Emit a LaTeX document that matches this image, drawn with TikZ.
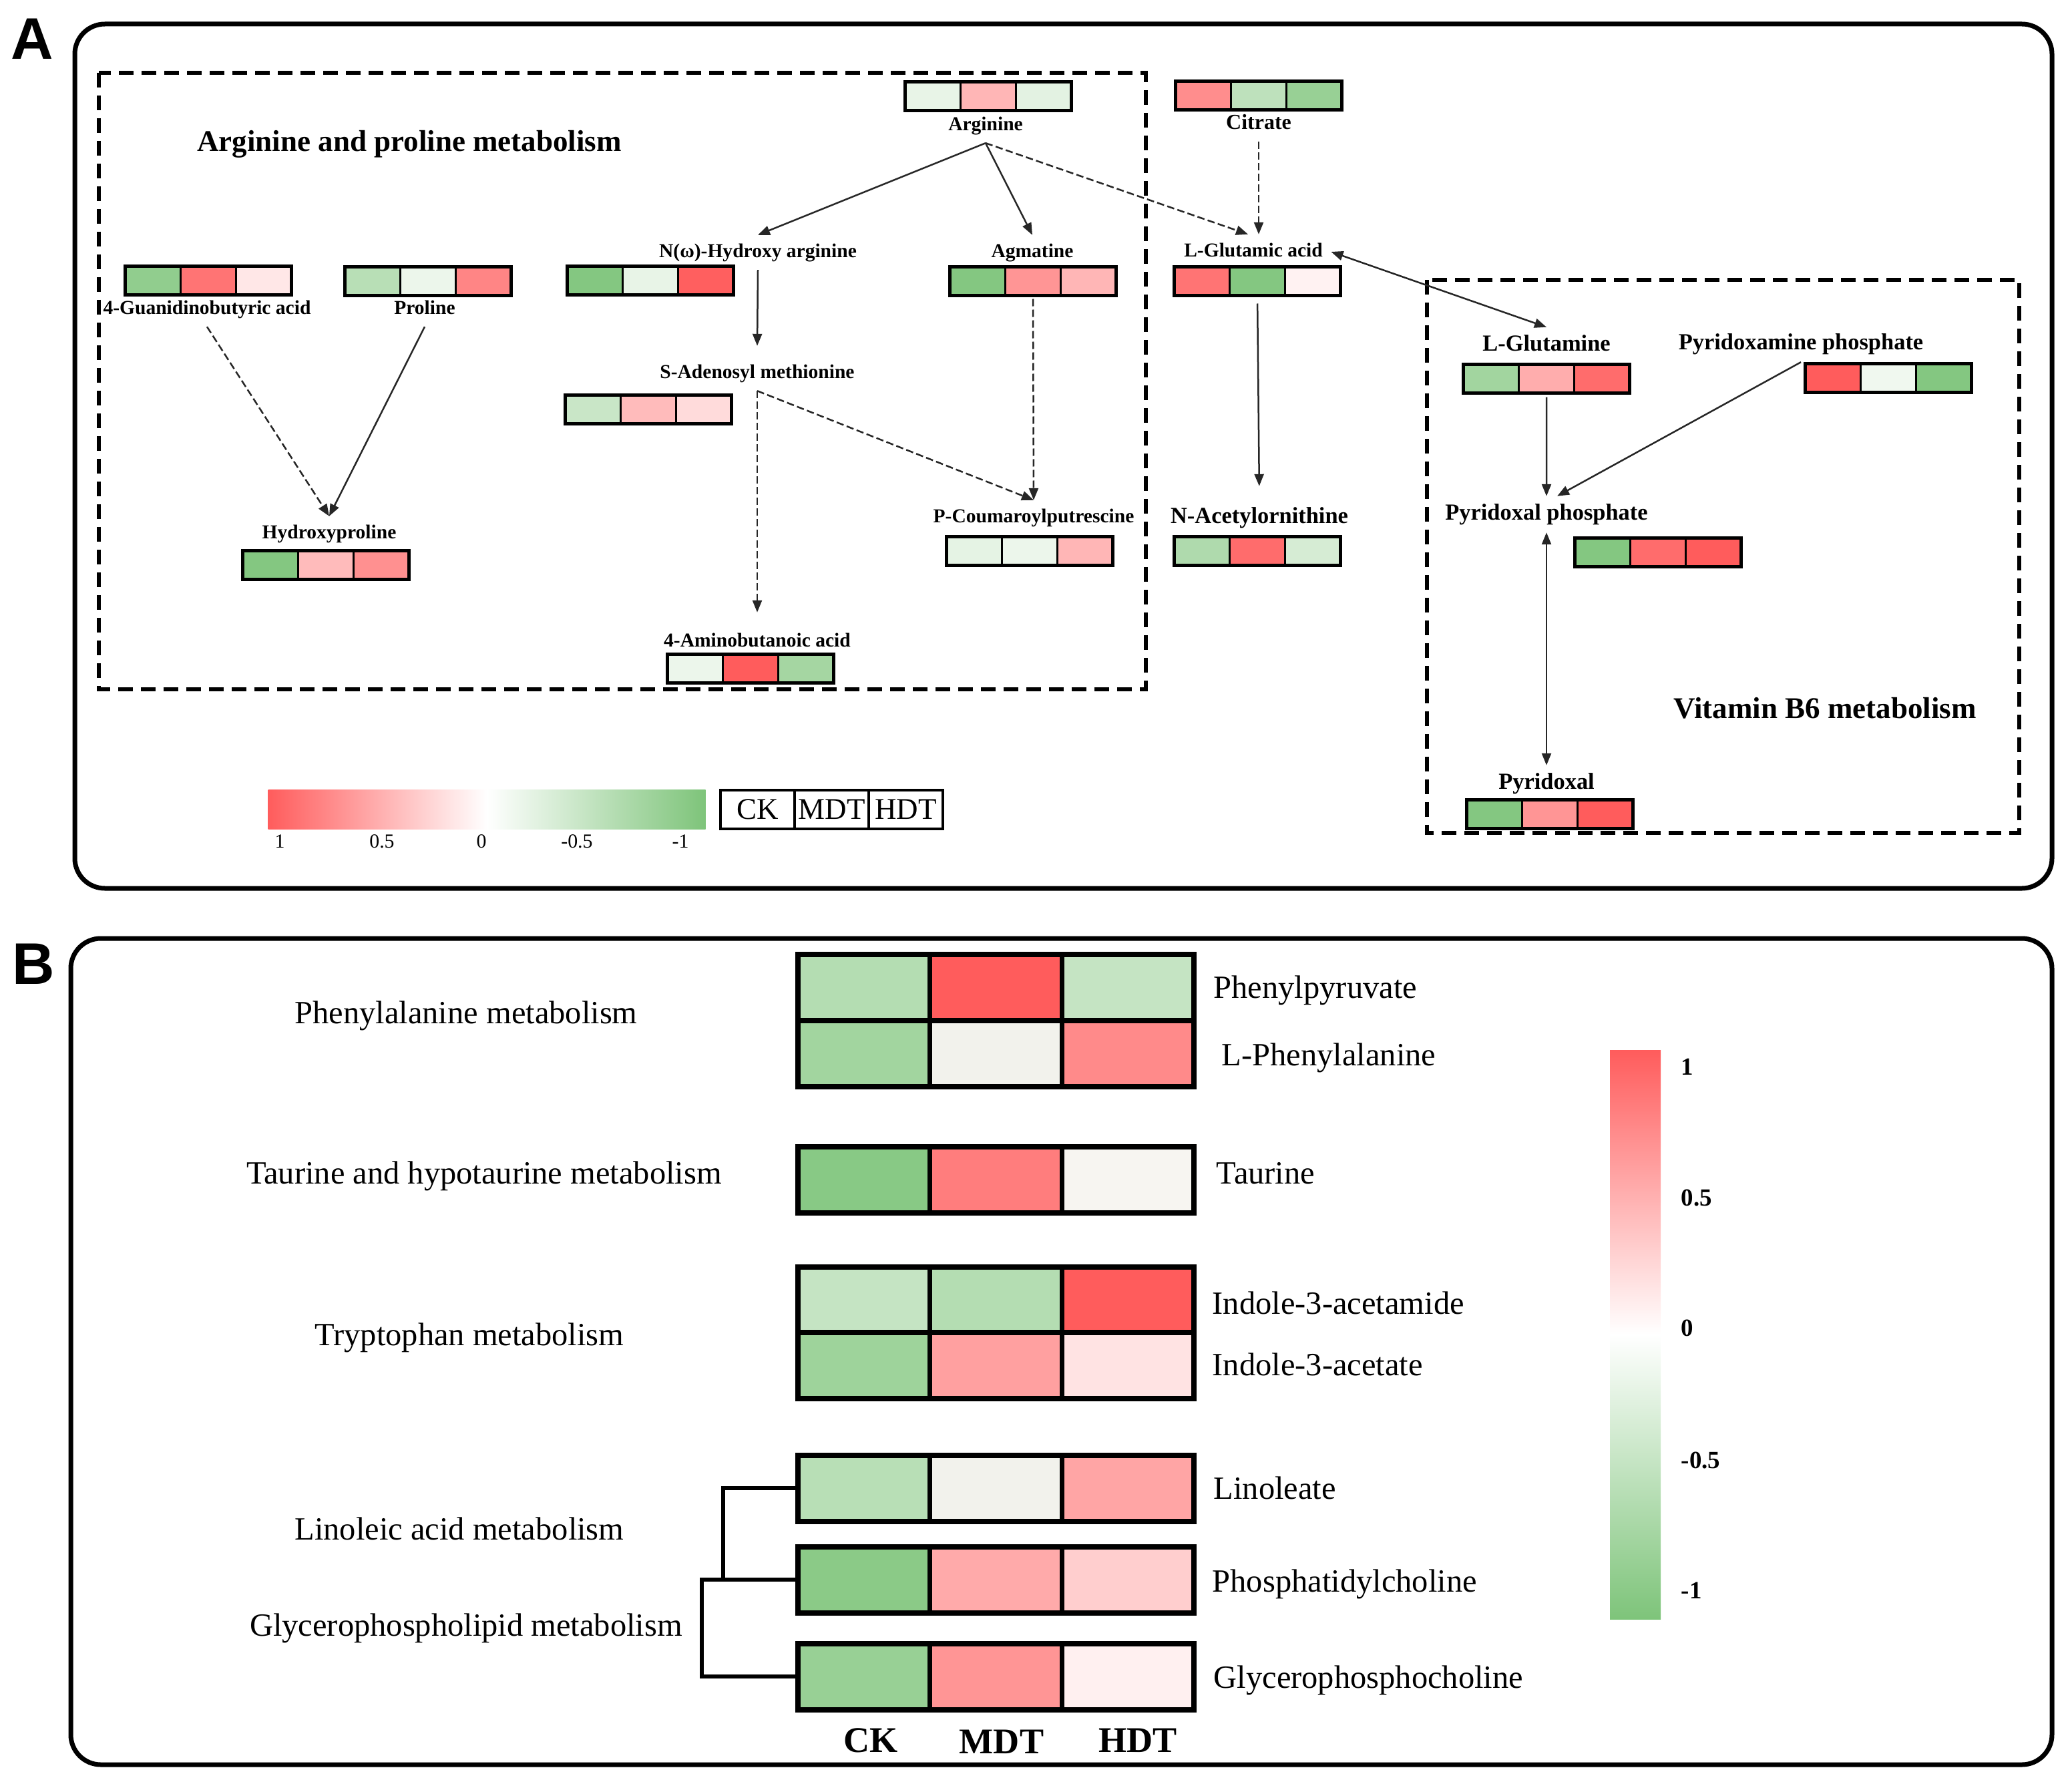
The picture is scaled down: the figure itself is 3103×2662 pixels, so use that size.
\documentclass[tikz,border=0pt]{standalone}
\usepackage{fontspec}
\setmainfont{Liberation Serif}
\newfontfamily\lsans{Liberation Sans}
\usetikzlibrary{arrows.meta,fit}
\definecolor{hr}{RGB}{255,92,92}
\definecolor{hg}{RGB}{126,196,122}
\definecolor{nz}{RGB}{242,242,236}
\definecolor{wz}{RGB}{247,245,241}
\tikzset{
 ah/.tip={Triangle[length=1.8mm,width=1.4mm]},
 cellA/.style={rectangle,draw=black,line width=0.3mm,minimum width=8.33mm,minimum height=4.3mm,inner sep=0,outer sep=0},
 frameA/.style={rectangle,draw=black,line width=0.5mm,inner sep=0,outer sep=0},
 cellB/.style={rectangle,draw=black,line width=0.7mm,minimum width=19.77mm,minimum height=9.9mm,inner sep=0,outer sep=0},
 frameB/.style={rectangle,draw=black,line width=0.8mm,inner sep=0,outer sep=0},
 lbl/.style={font=\fontsize{8.4}{10}\selectfont\bfseries,inner sep=1.2mm,text height=2.1mm,text depth=0.6mm},
 lblL/.style={font=\fontsize{9.8}{11.5}\selectfont\bfseries,inner sep=1.1mm,text height=2.4mm,text depth=0.7mm},
 ttlA/.style={font=\fontsize{12.8}{15}\selectfont\bfseries,inner sep=0},
 txtB/.style={font=\fontsize{13.8}{16}\selectfont,inner sep=0,text height=3.4mm,text depth=1mm},
 colB/.style={font=\fontsize{15.4}{18}\selectfont\bfseries,inner sep=0},
 cbtA/.style={font=\fontsize{8.5}{10}\selectfont,inner sep=0},
 cbtB/.style={font=\fontsize{10.5}{12}\selectfont\bfseries,inner sep=0,anchor=west},
 legcell/.style={rectangle,draw=black,line width=0.4mm,minimum width=11.1mm,minimum height=5.8mm,inner sep=0,font=\fontsize{12.8}{15}\selectfont},
 arr/.style={draw=black!85,line width=0.25mm,-ah},
 darr/.style={draw=black!85,line width=0.25mm,ah-ah},
 dsh/.style={dash pattern=on 1.1mm off 0.5mm},
 region/.style={draw=black,line width=0.55mm,dash pattern=on 2.2mm off 1.2mm},
 panel/.style={draw=black,line width=0.7mm,rounded corners=4.5mm},
 dend/.style={draw=black,line width=0.6mm},
 plabel/.style={font=\lsans\bfseries\fontsize{25}{30}\selectfont,inner sep=0},
}
\newcommand\hmA[6]{%
 \node[cellA,fill=#4] (#1-1) at ({#2-83.3},#3) {};
 \node[cellA,fill=#5] (#1-2) at (#2,#3) {};
 \node[cellA,fill=#6] (#1-3) at ({#2+83.3},#3) {};
 \node[frameA,fit=(#1-1)(#1-3)] (#1) {};
}
\newcommand\hmB[5]{%
 \node[cellB,fill=#3] (#1-1) at (1293.8,#2) {};
 \node[cellB,fill=#4] (#1-2) at (1491.5,#2) {};
 \node[cellB,fill=#5] (#1-3) at (1689.2,#2) {};
 \node[frameB,fit=(#1-1)(#1-3)] (#1) {};
}
\begin{document}
\begin{tikzpicture}[x=0.1mm,y=-0.1mm]
\useasboundingbox (0,0) rectangle (3103,2662);
% ---------------- Panel A ----------------
\node[plabel] (labA) at (48,58) {A};
\draw[panel] (112,36) rectangle (3073,1330);
\draw[region] (148,109) rectangle (1716,1032);
\draw[region] (2137,419) rectangle (3024,1247);
\node[ttlA] (ttlArg) at (613,216) {Arginine and proline metabolism};
\node[ttlA] (ttlVit) at (2733,1060) {Vitamin B6 metabolism};

\hmA{arg}{1480}{144}{hg!18!white}{hr!45!white}{hg!22!white}
\hmA{cit}{1885}{143}{hr!70!white}{hg!50!white}{hg!80!white}
\hmA{gba}{312}{420}{hg!85!white}{hr!85!white}{hr!15!white}
\hmA{pro}{641}{421}{hg!55!white}{hg!15!white}{hr!75!white}
\hmA{noh}{974}{420}{hg!95!white}{hg!18!white}{hr!98!white}
\hmA{agm}{1547}{421}{hg!95!white}{hr!65!white}{hr!45!white}
\hmA{glu}{1883}{421}{hr!85!white}{hg!95!white}{hr!8!white}
\hmA{sam}{971}{613}{hg!42!white}{hr!42!white}{hr!22!white}
\hmA{hyp}{488}{846}{hg!95!white}{hr!42!white}{hr!68!white}
\hmA{pc}{1542}{825}{hg!20!white}{hg!15!white}{hr!45!white}
\hmA{gab}{1124}{1001}{hg!15!white}{hr!100!white}{hg!70!white}
\hmA{nac}{1883}{825}{hg!62!white}{hr!90!white}{hg!32!white}
\hmA{gln}{2316}{567}{hg!72!white}{hr!50!white}{hr!90!white}
\hmA{pmp}{2828}{566}{hr!100!white}{hg!12!white}{hg!95!white}
\hmA{pp}{2483}{827}{hg!95!white}{hr!90!white}{hr!100!white}
\hmA{pyr}{2321}{1219}{hg!95!white}{hr!65!white}{hr!100!white}

\node[lbl] (argL) at (1476,188) {Arginine};
\node[lbl,font=\fontsize{9.1}{11}\selectfont\bfseries] (citL) at (1885,186) {Citrate};
\node[lbl] (gbaL) at (310,463) {4-Guanidinobutyric acid};
\node[lbl] (proL) at (636,463) {Proline};
\node[lbl] (nohL) at (1135,378) {N(ω)-Hydroxy arginine};
\node[lbl] (agmL) at (1546,378) {Agmatine};
\node[lbl] (gluL) at (1877,377) {L-Glutamic acid};
\node[lbl] (samL) at (1134,559) {S-Adenosyl methionine};
\node[lbl] (hypL) at (493,799) {Hydroxyproline};
\node[lbl] (pcL) at (1548,775) {P-Coumaroylputrescine};
\node[lbl] (gabL) at (1134,961) {4-Aminobutanoic acid};
\node[lblL] (nacL) at (1886,775) {N-Acetylornithine};
\node[lblL] (glnL) at (2316,517) {L-Glutamine};
\node[lblL] (pmpL) at (2697,515) {Pyridoxamine phosphate};
\node[lblL] (ppL) at (2316,770) {Pyridoxal phosphate};
\node[lblL] (pyrL) at (2316,1173) {Pyridoxal};

\draw[arr] (argL.south) -- (nohL.north);
\draw[arr] (argL.south) -- (agmL.north);
\draw[arr,dsh] (argL.south) -- ([xshift=-0.8mm]gluL.north);
\draw[arr,dsh] (citL.south) -- (citL.south |- gluL.north);
\draw[darr] (gluL.east) -- (glnL.north);
\draw[arr,shorten <=1.2mm,shorten >=2mm] (glu.south) -- (nacL.north);
\draw[arr] (nohL.south) -- ([yshift=1.5mm]samL.north);
\draw[arr,dsh] (samL.south) -- ([yshift=1.8mm]gabL.north);
\draw[arr,dsh] (samL.south) -- (pcL.north);
\draw[arr,dsh,shorten <=0.5mm] (agm.south) -- (pcL.north);
\draw[arr,dsh] (gbaL.south) -- (hypL.north);
\draw[arr] (proL.south) -- (hypL.north);
\draw[arr,shorten <=0.6mm] (gln.south) -- (ppL.north);
\draw[arr] (pmpL.south) -- ([xshift=1.6mm]ppL.north);
\draw[darr] (ppL.south) -- (pyrL.north);

% colour bar A
\node[minimum width=65.5mm,minimum height=5.9mm,inner sep=0,left color=hr,right color=hg,middle color=white,anchor=north west] (cbA) at (401,1182) {};
\node[cbtA] (cbA1) at (419,1260) {1};
\node[cbtA] (cbA2) at (572,1260) {0.5};
\node[cbtA] (cbA3) at (721,1260) {0};
\node[cbtA] (cbA4) at (864,1260) {-0.5};
\node[cbtA] (cbA5) at (1019,1260) {-1};
\node[legcell] (legCK) at (1134.5,1212) {CK};
\node[legcell] (legMDT) at (1245.5,1212) {MDT};
\node[legcell] (legHDT) at (1356.5,1212) {HDT};

% ---------------- Panel B ----------------
\node[plabel] (labB) at (50,1443) {B};
\draw[panel] (106,1405) rectangle (3073,2642);

\hmB{ppy}{1478}{hg!58!white}{hr!100!white}{hg!45!white}
\hmB{phe}{1577}{hg!72!white}{nz}{hr!72!white}
\node[frameB,fit=(ppy)(phe)] (gPhe) {};
\hmB{tau}{1766}{hg!92!white}{hr!80!white}{wz}
\hmB{iam}{1946}{hg!45!white}{hg!58!white}{hr!100!white}
\hmB{iac}{2044}{hg!75!white}{hr!58!white}{hr!17!white}
\node[frameB,fit=(iam)(iac)] (gTrp) {};
\hmB{lin}{2228}{hg!55!white}{nz}{hr!55!white}
\hmB{pcB}{2365}{hg!90!white}{hr!52!white}{hr!30!white}
\hmB{gpc}{2510}{hg!80!white}{hr!65!white}{hr!9!white}

\node[txtB,anchor=west] (ppyT) at (1817,1482) {Phenylpyruvate};
\node[txtB,anchor=west] (pheT) at (1829,1583) {L-Phenylalanine};
\node[txtB,anchor=west] (tauT) at (1821,1760) {Taurine};
\node[txtB,anchor=west] (iamT) at (1815,1955) {Indole-3-acetamide};
\node[txtB,anchor=west] (iacT) at (1815,2047) {Indole-3-acetate};
\node[txtB,anchor=west] (linT) at (1817,2232) {Linoleate};
\node[txtB,anchor=west] (pcT) at (1815,2371) {Phosphatidylcholine};
\node[txtB,anchor=west] (gpcT) at (1817,2515) {Glycerophosphocholine};

\node[txtB] (pwPhe) at (698,1520) {Phenylalanine metabolism};
\node[txtB] (pwTau) at (725,1760) {Taurine and hypotaurine metabolism};
\node[txtB] (pwTrp) at (703,2002) {Tryptophan metabolism};
\node[txtB] (pwLin) at (688,2293) {Linoleic acid metabolism};
\node[txtB] (pwGly) at (698,2437) {Glycerophospholipid metabolism};

\coordinate (d1) at (1083,2296);
\coordinate (d2) at (1051,2437);
\draw[dend] (lin.west) -| (d1) |- (pcB.west);
\draw[dend] (pcB.west) -| (d2) |- (gpc.west);

\node[colB] (cCK) at (1304,2606) {CK};
\node[colB] (cMDT) at (1500,2608) {MDT};
\node[colB] (cHDT) at (1704,2606) {HDT};

% colour bar B
\node[minimum width=7.6mm,minimum height=85.2mm,inner sep=0,top color=hr,bottom color=hg,middle color=white] (cbB) at (2449,1998) {};
\node[cbtB] (cbB1) at (2517,1597) {1};
\node[cbtB] (cbB2) at (2517,1793) {0.5};
\node[cbtB] (cbB3) at (2517,1988) {0};
\node[cbtB] (cbB4) at (2517,2186) {-0.5};
\node[cbtB] (cbB5) at (2517,2381) {-1};
\end{tikzpicture}
\end{document}
